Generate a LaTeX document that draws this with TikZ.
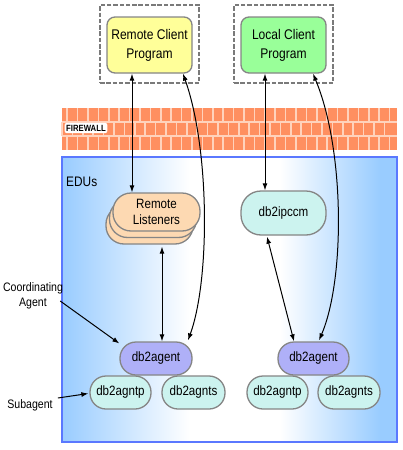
\documentclass[tikz,border=0pt]{standalone}
\usepackage{fontspec}
\setmainfont{Liberation Sans}[FakeStretch=0.86]
\usetikzlibrary{arrows.meta,calc}
\definecolor{bord}{HTML}{858585}
\definecolor{dgray}{HTML}{7A7A7A}
\definecolor{cyell}{HTML}{FFFF99}
\definecolor{cgreen}{HTML}{99FF99}
\definecolor{cpeach}{HTML}{FDD9B2}
\definecolor{ccyan}{HTML}{CCF3EF}
\definecolor{clav}{HTML}{AFB0F8}
\definecolor{eblue}{HTML}{99CCFF}
\definecolor{eline}{HTML}{5A78FF}
\definecolor{brick}{HTML}{FF8F60}
\definecolor{brickgap}{HTML}{FFD2BC}
\begin{document}
\begin{tikzpicture}[x=1pt,y=-1pt,
  box/.style={draw=bord, line width=1.3pt, align=center, inner sep=0pt,
    font=\fontsize{13.5}{15.5}\selectfont},
  client/.style={box, rounded corners=8pt, minimum width=85pt, minimum height=56pt,
    font=\fontsize{14}{19}\selectfont},
  pill/.style={box, rounded corners=16pt, minimum height=33pt},
  dbox/.style={draw=dgray, line width=2.8pt, dash pattern=on 4.5pt off 1.8pt, inner sep=0pt},
  arr/.style={{Latex[length=7pt,width=5pt]}-{Latex[length=7pt,width=5pt]}, line width=1pt},
  oarr/.style={-{Latex[length=7pt,width=5pt]}, line width=1pt},
  lab/.style={align=center, inner sep=0pt, font=\fontsize{12.3}{14.5}\selectfont}]
\useasboundingbox (0,0) rectangle (402,450);
% EDU background
\fill[left color=eblue, right color=white] (62,157) rectangle (190,442);
\fill[white] (189.5,157) rectangle (280.5,442);
\fill[left color=white, right color=eblue] (280,157) rectangle (380,442);
\fill[eblue] (379.5,157) rectangle (397,442);
\draw[eline, line width=1.2pt] (62,157) rectangle (397,442);
\node[anchor=north west, inner sep=0pt, font=\fontsize{13.8}{15}\selectfont] (edu) at (66,177) {EDUs};
% firewall
\fill[brick] (62,108) rectangle (397,150);
\begin{scope}[brickgap, line width=1.5pt]
  \draw (62,122) -- (397,122);
  \draw (62,136) -- (397,136);
  \foreach \i in {0,...,31} {
    \draw ({62+10.4*\i+5.2},108) -- ({62+10.4*\i+5.2},122);
    \draw ({62+10.4*\i},122) -- ({62+10.4*\i},136);
    \draw ({62+10.4*\i+5.2},136) -- ({62+10.4*\i+5.2},150);
  }
\end{scope}
\node[fill=white, rounded corners=2pt, inner xsep=1.5pt, inner ysep=2pt,
  font=\fontsize{9}{10}\selectfont\bfseries] (fw) at (86,128) {FIREWALL};
% clients
\node[dbox, minimum width=99pt, minimum height=78pt] (dl) at (149.5,44) {};
\node[dbox, minimum width=99pt, minimum height=78pt] (dr) at (283.5,44) {};
\node[client, fill=cyell] (rcp) at (149.5,45) {Remote Client\\Program};
\node[client, fill=cgreen] (lcp) at (283.5,45) {Local Client\\Program};
% remote listeners stack
\node[box, fill=cpeach, rounded corners=18pt, minimum width=87pt, minimum height=38pt] (rlb) at (149.5,225) {};
\node[box, fill=cpeach, rounded corners=18pt, minimum width=87pt, minimum height=38pt] (rlm) at (153,218.5) {};
\node[box, fill=cpeach, rounded corners=18pt, minimum width=87pt, minimum height=38pt] (rl) at (156.5,212) {Remote\\Listeners};
\node[box, fill=ccyan, rounded corners=20pt, minimum width=85pt, minimum height=44pt] (ipc) at (283.5,213) {db2ipccm};
% agents
\node[pill, fill=clav, minimum width=72pt] (agL) at (156,358.5) {db2agent};
\node[pill, fill=ccyan, minimum width=61pt] (apL) at (120.5,392.5) {db2agntp};
\node[pill, fill=ccyan, minimum width=63pt] (asL) at (193.5,392.5) {db2agnts};
\node[pill, fill=clav, minimum width=71pt] (agR) at (313.5,358.5) {db2agent};
\node[pill, fill=ccyan, minimum width=61pt] (apR) at (277.5,392.5) {db2agntp};
\node[pill, fill=ccyan, minimum width=62pt] (asR) at (349,392.5) {db2agnts};
% labels
\node[lab] (coord) at (33,296) {Coordinating\\Agent};
\node[lab] (sub) at (30,405) {Subagent};
% connectors
\draw[arr] ($(rcp.south)+(-17.5,0)$) -- ($(rl.north)+(-24.5,0)$);
\draw[arr] ($(rlb.south)+(12.5,2)$) -- ($(agL.north)+(6,0)$);
\draw[arr] ($(rcp.south)+(33.5,0)$) .. controls (210,150) and (210,280) .. ($(agL.north)+(32,-1)$);
\draw[arr] ($(lcp.south)+(-18.5,0)$) -- ($(ipc.north)+(-18.5,0)$);
\draw[arr] ($(ipc.south)+(-16.5,1)$) -- ($(agR.north)+(-19.5,0)$);
\draw[arr] ($(lcp.south)+(29.5,0)$) .. controls (345,150) and (345,280) .. ($(agR.north)+(5.5,-1)$);
\draw[oarr] ($(coord.east)+(-3,5)$) -- ($(agL.west)+(0,-15)$);
\draw[oarr] ($(sub.east)+(5,-7)$) -- ($(apL.west)+(-1,1)$);
\end{tikzpicture}
\end{document}
